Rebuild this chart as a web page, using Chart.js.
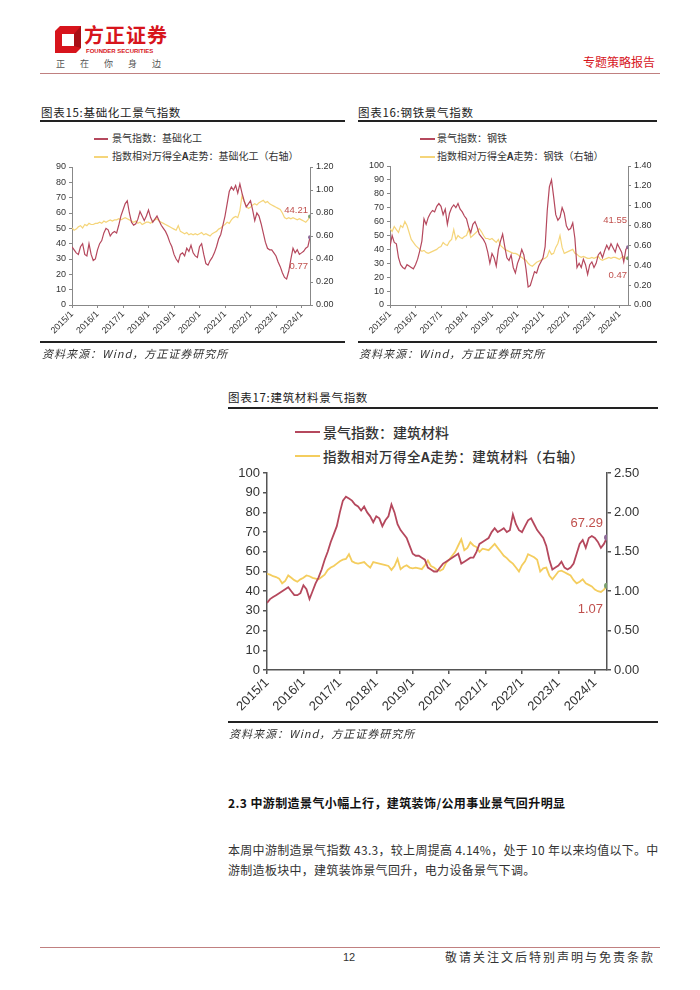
<!DOCTYPE html>
<html>
<head>
<meta charset="utf-8">
<script src="https://cdn.jsdelivr.net/npm/chart.js@4.4.1/dist/chart.umd.min.js"></script>
<style>
  body { margin: 0; background: #fff; width: 700px; height: 990px; position: relative; overflow: hidden;
         font-family: "Noto Sans CJK SC", "Noto Sans", sans-serif; color: #222; }
  .a { position: absolute; white-space: nowrap; }
  .rule { position: absolute; background: #222; }
  .lg { position: absolute; height: 1.5px; }
  .src { font-size: 11px; font-style: italic; color: #333; letter-spacing: 1px; line-height: 14px; }
  .ttl { font-size: 11.5px; line-height: 14px; color: #222; letter-spacing: 0.7px; }
  canvas { position: absolute; }
</style>
</head>
<body>

<!-- header -->
<svg class="a" style="left:55px;top:26px" width="26" height="27" viewBox="0 0 26 27">
  <polygon points="0,5 5,0 26,0 26,22 21,27 0,27" fill="#d7141c"/>
  <polygon points="7,8 19,8 19,20 7,20" fill="#fff"/>
  <polygon points="19,8 26,0 26,22 19,20" fill="#a80f16"/>
</svg>
<div class="a" style="left:84px;top:22px;font-size:20px;font-weight:700;color:#d7141c;letter-spacing:1px;line-height:26px">方正证券</div>
<div class="a" style="left:86px;top:47px;font-size:6px;font-weight:700;color:#d7141c;line-height:8px;font-family:'Liberation Sans',sans-serif">FOUNDER SECURITIES</div>
<div class="a" style="left:56px;top:58px;font-size:9px;color:#555;letter-spacing:15px;line-height:12px">正在你身边</div>
<div class="a" style="left:583px;top:54px;font-size:12px;color:#d7141c;line-height:16px">专题策略报告</div>
<div class="rule" style="left:40px;top:73px;width:620px;height:1px;background:#c08080"></div>

<!-- chart 15 -->
<div class="a ttl" style="left:41px;top:105px">图表15:基础化工景气指数</div>
<div class="rule" style="left:40px;top:120px;width:305px;height:1.5px"></div>
<div class="lg" style="left:94px;top:138px;width:14px;background:#b5485d"></div>
<div class="a" style="left:112px;top:131px;font-size:10px;line-height:14px;color:#333">景气指数：基础化工</div>
<div class="lg" style="left:94px;top:156px;width:14px;background:#f5d57a"></div>
<div class="a" style="left:112px;top:149px;font-size:10px;line-height:14px;color:#333">指数相对万得全<b>A</b>走势：基础化工（右轴）</div>
<canvas id="c15" width="300" height="184" style="left:40px;top:158px"></canvas>
<div class="rule" style="left:40px;top:341px;width:305px;height:1.5px"></div>
<div class="a src" style="left:42px;top:346px">资料来源：Wind，方正证券研究所</div>

<!-- chart 16 -->
<div class="a ttl" style="left:358px;top:105px">图表16:钢铁景气指数</div>
<div class="rule" style="left:358px;top:120px;width:299px;height:1.5px"></div>
<div class="lg" style="left:420px;top:138px;width:15px;background:#b5485d"></div>
<div class="a" style="left:437px;top:131px;font-size:10px;line-height:14px;color:#333">景气指数：钢铁</div>
<div class="lg" style="left:420px;top:156px;width:15px;background:#f5d57a"></div>
<div class="a" style="left:437px;top:149px;font-size:10px;line-height:14px;color:#333">指数相对万得全<b>A</b>走势：钢铁（右轴）</div>
<canvas id="c16" width="300" height="185" style="left:358px;top:157px"></canvas>
<div class="rule" style="left:358px;top:341px;width:299px;height:1.5px"></div>
<div class="a src" style="left:359px;top:346px">资料来源：Wind，方正证券研究所</div>

<!-- chart 17 -->
<div class="a ttl" style="left:228px;top:390px">图表17:建筑材料景气指数</div>
<div class="rule" style="left:228px;top:407px;width:430px;height:1.5px"></div>
<div class="lg" style="left:295px;top:431px;width:25px;height:2px;background:#b5485d"></div>
<div class="a" style="left:323px;top:423px;font-size:14px;line-height:18px;font-weight:500;color:#333">景气指数：建筑材料</div>
<div class="lg" style="left:295px;top:455px;width:25px;height:2px;background:#f4cd5e"></div>
<div class="a" style="left:323px;top:447px;font-size:13.5px;line-height:18px;font-weight:500;color:#333;letter-spacing:0.5px">指数相对万得全<b>A</b>走势：建筑材料（右轴）</div>
<canvas id="c17" width="432" height="262" style="left:226px;top:460px"></canvas>
<div class="rule" style="left:228px;top:721px;width:430px;height:1.5px"></div>
<div class="a src" style="left:229px;top:726px">资料来源：Wind，方正证券研究所</div>

<!-- text -->
<div class="a" style="left:228px;top:795px;font-size:12px;font-weight:700;line-height:16px;color:#111;letter-spacing:0.4px">2.3 中游制造景气小幅上行，建筑装饰/公用事业景气回升明显</div>
<div class="a" style="left:228px;top:842px;font-size:12px;line-height:16px;color:#333;letter-spacing:0.3px">本周中游制造景气指数 43.3，较上周提高 4.14%，处于 10 年以来均值以下。中</div>
<div class="a" style="left:228px;top:862px;font-size:12px;line-height:16px;color:#333;letter-spacing:0.3px">游制造板块中，建筑装饰景气回升，电力设备景气下调。</div>

<!-- footer -->
<div class="rule" style="left:40px;top:947px;width:620px;height:1px;background:#c08080"></div>
<div class="a" style="left:343px;top:950px;font-size:11px;line-height:14px;color:#333;font-family:'Liberation Sans',sans-serif">12</div>
<div class="a" style="left:445px;top:949px;font-size:12px;line-height:16px;color:#333;letter-spacing:2px">敬请关注文后特别声明与免责条款</div>

<script>
// monthly points, 2015/1 .. 2024/5
const months = [];
for (let y = 2015; y <= 2024; y++) {
    for (let m = 1; m <= 12; m++) {
        if (months.length < 113) months.push(y + '/' + m);
    }
}

// 基础化工
const chemIndex = [
    38, 36, 34, 33, 38, 40, 33, 32, 40, 33, 29, 30,
    36, 40, 42, 47, 50, 49, 45, 47, 48, 47, 52, 58,
    62, 66, 68, 60, 54, 52, 53, 56, 61, 58, 55, 58,
    62, 57, 54, 56, 58, 55, 52, 50, 48, 45, 41, 38,
    33, 30, 28, 33, 34, 32, 37, 35, 39, 34, 32, 31,
    38, 40, 33, 27, 26, 29, 31, 34, 38, 43, 46, 52,
    58, 66, 74, 77, 75, 78, 73, 79, 73, 68, 64, 66,
    68, 62, 55, 60, 58, 53, 47, 41, 37, 36, 36, 34,
    32, 28, 25, 21, 18, 17, 22, 30, 37, 34, 36, 33,
    34, 35, 37, 38, 44.21
];
const chemRel = [
    0.67, 0.65, 0.66, 0.68, 0.69, 0.67, 0.70, 0.69, 0.71, 0.70, 0.70, 0.71,
    0.71, 0.72, 0.71, 0.73, 0.72, 0.73, 0.74, 0.73, 0.74, 0.74, 0.75, 0.74,
    0.75, 0.76, 0.75, 0.74, 0.73, 0.72, 0.73, 0.71, 0.72, 0.70, 0.71, 0.72,
    0.72, 0.71, 0.73, 0.74, 0.75, 0.73, 0.72, 0.71, 0.70, 0.69, 0.68, 0.67,
    0.66, 0.65, 0.69, 0.64, 0.63, 0.62, 0.63, 0.61, 0.62, 0.61, 0.62, 0.61,
    0.62, 0.63, 0.61, 0.62, 0.61, 0.60, 0.62, 0.63, 0.64, 0.66, 0.67, 0.69,
    0.70, 0.72, 0.71, 0.74, 0.76, 0.77, 0.76, 0.82, 0.95, 0.90, 0.86, 0.84,
    0.85, 0.87, 0.88, 0.87, 0.89, 0.90, 0.91, 0.89, 0.90, 0.88, 0.87, 0.86,
    0.85, 0.84, 0.83, 0.80, 0.76, 0.75, 0.76, 0.75, 0.76, 0.75, 0.74, 0.75,
    0.74, 0.73, 0.72, 0.74, 0.77
];

// 钢铁
const steelIndex = [
    42, 50, 45, 44, 34, 29, 27, 26, 29, 28, 27, 26,
    29, 33, 39, 46, 62, 58, 63, 66, 68, 67, 71, 73,
    71, 65, 69, 58, 66, 70, 72, 70, 73, 69, 67, 64,
    62, 56, 52, 58, 60, 56, 51, 49, 47, 44, 38, 30,
    37, 34, 28, 40, 46, 51, 42, 34, 32, 36, 27, 23,
    30, 34, 40, 36, 26, 13, 14, 19, 24, 23, 28, 31,
    34, 42, 68, 85, 90, 78, 65, 61, 63, 70, 66, 57,
    54, 55, 59, 48, 27, 30, 27, 33, 29, 22, 29, 31,
    27, 30, 36, 38, 34, 39, 43, 40, 44, 41, 38, 44,
    41, 38, 31, 40, 41.55
];
const steelRel = [
    0.77, 0.74, 0.79, 0.76, 0.73, 0.80, 0.78, 0.84, 0.80, 0.73, 0.66, 0.63,
    0.60, 0.58, 0.56, 0.54, 0.55, 0.53, 0.52, 0.53, 0.54, 0.55, 0.56, 0.58,
    0.59, 0.63, 0.61, 0.60, 0.64, 0.66, 0.76, 0.66, 0.70, 0.68, 0.67, 0.69,
    0.70, 0.76, 0.68, 0.70, 0.72, 0.74, 0.77, 0.74, 0.70, 0.67, 0.67, 0.66,
    0.67, 0.65, 0.63, 0.66, 0.60, 0.58, 0.56, 0.55, 0.54, 0.53, 0.52, 0.52,
    0.51, 0.49, 0.48, 0.46, 0.45, 0.42, 0.40, 0.39, 0.41, 0.43, 0.44, 0.45,
    0.46, 0.47, 0.49, 0.55, 0.51, 0.52, 0.58, 0.62, 0.70, 0.58, 0.52, 0.53,
    0.54, 0.55, 0.56, 0.52, 0.51, 0.49, 0.48, 0.49, 0.48, 0.47, 0.47, 0.48,
    0.47, 0.48, 0.49, 0.46, 0.45, 0.46, 0.47, 0.48, 0.47, 0.48, 0.48, 0.47,
    0.46, 0.48, 0.49, 0.47, 0.47
];

// 建筑材料
const buildIndex = [
    34, 36, 37, 38, 39, 40, 41, 42, 40, 38, 38, 39,
    43, 41, 36, 40, 44, 47, 51, 56, 60, 65, 69, 73,
    80, 86, 88, 87, 86, 84, 83, 81, 83, 80, 78, 75,
    78, 77, 73, 76, 78, 84, 80, 74, 71, 69, 67, 63,
    59, 58, 58, 57, 56, 52, 51, 50, 50, 52, 54, 55,
    56, 57, 58, 59, 54, 55, 56, 57, 57, 60, 64, 65,
    66, 67, 70, 72, 70, 71, 72, 70, 71, 79, 74, 71,
    70, 73, 76, 77, 74, 71, 69, 67, 63, 56, 51, 52,
    53, 55, 52, 51, 52, 54, 59, 64, 66, 62, 67, 68,
    67, 65, 62, 64, 67.29
];
const buildRel = [
    1.22, 1.21, 1.19, 1.18, 1.16, 1.10, 1.13, 1.20, 1.17, 1.14, 1.12, 1.15,
    1.17, 1.20, 1.19, 1.17, 1.16, 1.15, 1.18, 1.21, 1.27, 1.30, 1.32, 1.35,
    1.38, 1.40, 1.41, 1.47, 1.38, 1.36, 1.35, 1.36, 1.37, 1.33, 1.30, 1.37,
    1.36, 1.35, 1.34, 1.33, 1.32, 1.27, 1.32, 1.41, 1.28, 1.31, 1.33, 1.30,
    1.29, 1.30, 1.29, 1.28, 1.33, 1.39, 1.32, 1.30, 1.27, 1.26, 1.28, 1.36,
    1.40, 1.45, 1.50, 1.58, 1.66, 1.52, 1.55, 1.62, 1.58, 1.56, 1.50, 1.54,
    1.53, 1.52, 1.56, 1.60, 1.55, 1.50, 1.45, 1.42, 1.38, 1.35, 1.30, 1.25,
    1.33, 1.38, 1.47, 1.45, 1.43, 1.40, 1.25, 1.29, 1.30, 1.20, 1.15, 1.20,
    1.25, 1.26, 1.24, 1.22, 1.20, 1.14, 1.10, 1.12, 1.15, 1.10, 1.08, 1.06,
    1.02, 1.00, 0.99, 1.02, 1.07
];

const RED = '#b5485d';
const tickFont = 'Liberation Sans';

// last value labels written near the right axis
const endLabels = {
    id: 'endLabels',
    afterDatasetsDraw(chart, args, opts) {
        const { ctx, chartArea, scales } = chart;
        ctx.save();
        ctx.font = opts.size + 'px ' + tickFont;
        ctx.fillStyle = '#c0504d';
        ctx.textAlign = 'right';
        ctx.textBaseline = 'middle';
        opts.items.forEach(it => {
            ctx.fillText(it.value.toFixed(2), chartArea.right - opts.inset, scales.y.getPixelForValue(it.at));
        });
        ctx.restore();
    }
};

function lastDot(n, r) {
    return c => (c.dataIndex === n - 1 ? r : 0);
}

function drawChart(id, index, rel, cfg) {
    const n = index.length;
    const axis = { color: cfg.axis, width: cfg.bw };
    const grid = { drawOnChartArea: false, tickLength: cfg.tick, color: cfg.axis, lineWidth: cfg.bw };
    const font = { family: tickFont, size: cfg.size };
    return new Chart(document.getElementById(id), {
        type: 'line',
        data: {
            datasets: [
                {
                    data: index.map((v, i) => ({ x: i, y: v })), yAxisID: 'y',
                    borderColor: RED, borderWidth: cfg.lw, tension: 0,
                    pointRadius: lastDot(n, cfg.dot), pointBackgroundColor: '#8e6b98', pointBorderWidth: 0
                },
                {
                    data: rel.map((v, i) => ({ x: i, y: v })), yAxisID: 'y1',
                    borderColor: cfg.yellow, borderWidth: cfg.lw, tension: 0,
                    pointRadius: lastDot(n, cfg.dot), pointBackgroundColor: '#7a9f6e', pointBorderWidth: 0
                }
            ]
        },
        options: {
            responsive: false,
            animation: false,
            layout: { padding: { top: cfg.padTop, left: 0, right: 0, bottom: 0 } },
            plugins: {
                legend: { display: false },
                tooltip: { enabled: false },
                endLabels: {
                    size: cfg.labSize, inset: cfg.inset,
                    items: [{ value: index[n - 1], at: cfg.atIndex }, { value: rel[n - 1], at: cfg.atRel }]
                }
            },
            scales: {
                x: {
                    type: 'linear', min: 0, max: n - 1,
                    afterFit(s) { s.height = cfg.xH; },
                    grid: grid, border: axis,
                    ticks: {
                        stepSize: 12, includeBounds: false, autoSkip: false,
                        maxRotation: 45, minRotation: 45, padding: 1,
                        font: font, color: '#333',
                        callback: v => (v % 12 === 0 ? months[v] : '')
                    }
                },
                y: {
                    position: 'left', min: 0, max: cfg.lMax,
                    afterFit(s) { s.width = cfg.lW; },
                    grid: grid, border: axis,
                    ticks: { stepSize: 10, padding: 3, font: font, color: '#333' }
                },
                y1: {
                    position: 'right', min: 0, max: cfg.rMax,
                    afterFit(s) { s.width = cfg.rW; },
                    grid: grid, border: axis,
                    ticks: { stepSize: cfg.rStep, padding: 3, font: font, color: '#333', callback: v => v.toFixed(2) }
                }
            }
        },
        plugins: [endLabels]
    });
}

drawChart('c15', chemIndex, chemRel, {
    lMax: 90, rMax: 1.2, rStep: 0.2, padTop: 9, xH: 37, lW: 32, rW: 30,
    size: 9, tick: 3, axis: '#888', bw: 1, lw: 1.2, dot: 2, yellow: '#f5d57a',
    labSize: 9.5, inset: 2, atIndex: 62, atRel: 25
});

drawChart('c16', steelIndex, steelRel, {
    lMax: 100, rMax: 1.4, rStep: 0.2, padTop: 9, xH: 37, lW: 32, rW: 30,
    size: 9, tick: 3, axis: '#888', bw: 1, lw: 1.2, dot: 2, yellow: '#f5d57a',
    labSize: 9.5, inset: 1, atIndex: 61, atRel: 21
});

drawChart('c17', buildIndex, buildRel, {
    lMax: 100, rMax: 2.5, rStep: 0.5, padTop: 13, xH: 52, lW: 41, rW: 51,
    size: 13, tick: 4, axis: '#555', bw: 1.5, lw: 1.8, dot: 3, yellow: '#f4cd5e',
    labSize: 13, inset: 4, atIndex: 74.4, atRel: 31
});
</script>
</body>
</html>
